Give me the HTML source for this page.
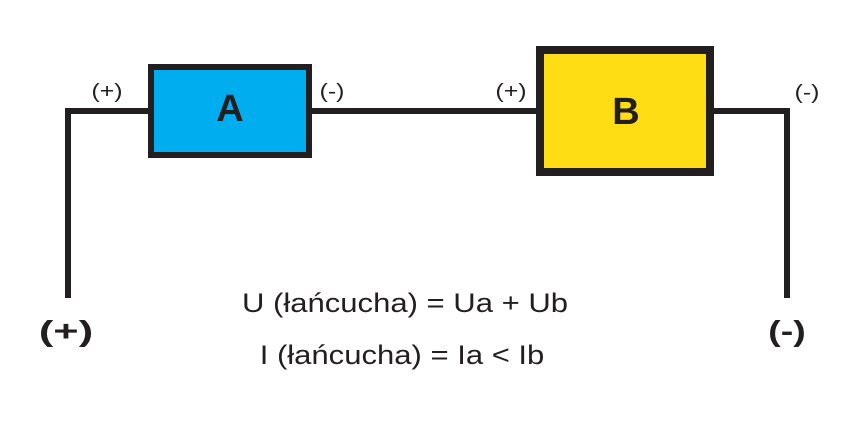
<!DOCTYPE html>
<html><head><meta charset="utf-8"><style>
body{margin:0;width:855px;height:438px;background:#fff;overflow:hidden}
</style></head><body>
<svg width="855" height="438" xmlns="http://www.w3.org/2000/svg" font-family="Liberation Sans, DejaVu Sans, sans-serif" fill="#231f20">
<g stroke="#231f20" stroke-width="6" fill="none">
<polyline points="68,298 68,111 150,111"/>
<line x1="310" y1="111" x2="540" y2="111"/>
<polyline points="712,111 787,111 787,298"/>
</g>
<rect x="151" y="67" width="158" height="88" fill="#00aeef" stroke="#231f20" stroke-width="6"/>
<rect x="540" y="50" width="170" height="122" fill="#ffdd15" stroke="#231f20" stroke-width="8"/>
<text x="230" y="121" font-size="38" font-weight="bold" text-anchor="middle">A</text>
<text x="626" y="124" font-size="38" font-weight="bold" text-anchor="middle">B</text>
<g font-size="20" text-anchor="middle">
<text transform="translate(107,98) scale(1.25,1)">(+)</text>
<text transform="translate(332,98) scale(1.25,1)">(-)</text>
<text transform="translate(511,98) scale(1.25,1)">(+)</text>
<text transform="translate(807,99) scale(1.25,1)">(-)</text>
</g>
<g font-size="29" font-weight="bold" text-anchor="middle">
<text transform="translate(66,341) scale(1.5,1)">(+)</text>
<text transform="translate(787,341) scale(1.3,1)">(-)</text>
</g>
<g font-size="27" text-anchor="middle">
<text transform="translate(405,312) scale(1.15,1)">U (łańcucha) = Ua + Ub</text>
<text transform="translate(402,364) scale(1.15,1)">I (łańcucha) = Ia &lt; Ib</text>
</g>
</svg>
</body></html>
